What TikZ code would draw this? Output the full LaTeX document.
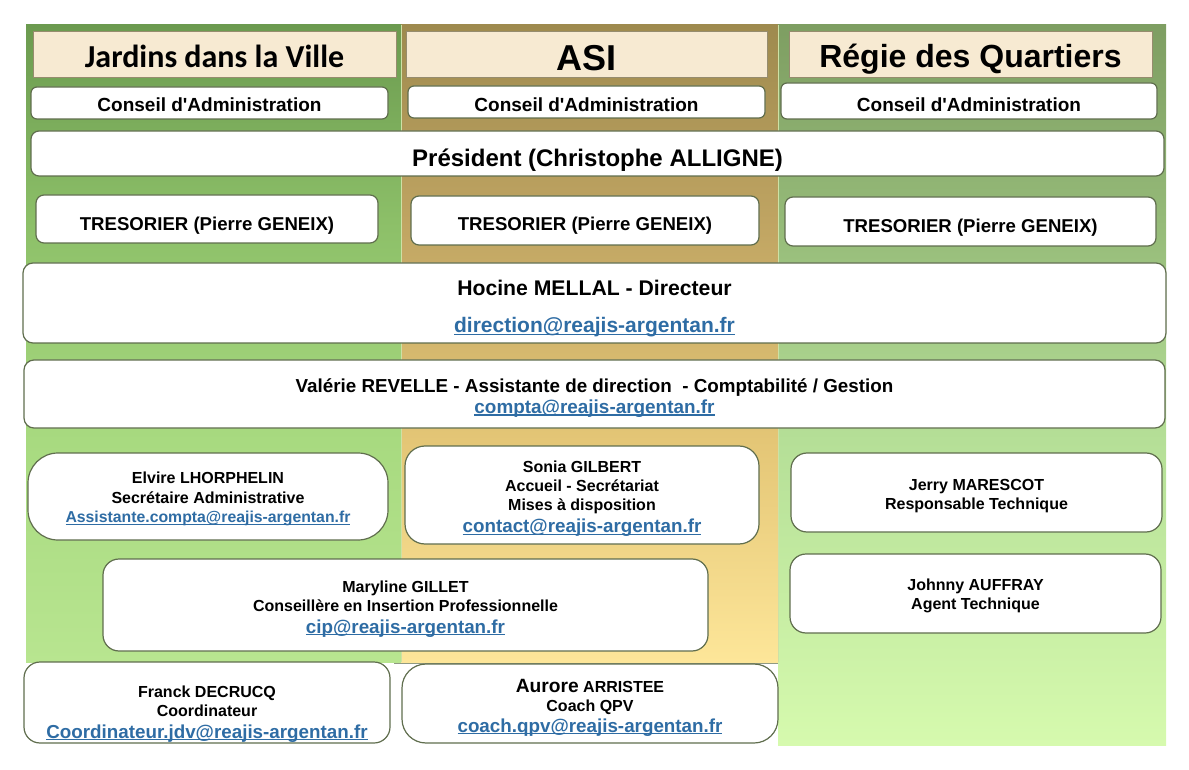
\documentclass[tikz,border=0pt]{standalone}
\usepackage{fontspec}
\setmainfont{Liberation Sans}
\newfontfamily\calibri{Carlito}
\usetikzlibrary{positioning}

\definecolor{jdvA}{RGB}{107,154,79}
\definecolor{jdvB}{RGB}{140,191,104}
\definecolor{jdvC}{RGB}{168,218,128}
\definecolor{jdvD}{RGB}{184,229,144}
\definecolor{asiA}{RGB}{158,138,78}
\definecolor{asiB}{RGB}{191,164,98}
\definecolor{asiC}{RGB}{228,198,118}
\definecolor{asiD}{RGB}{253,230,153}
\definecolor{rdqA}{RGB}{126,158,98}
\definecolor{rdqB}{RGB}{149,186,120}
\definecolor{rdqC}{RGB}{181,223,151}
\definecolor{rdqD}{RGB}{214,250,174}
\definecolor{headfill}{RGB}{247,234,210}
\definecolor{headline}{RGB}{150,140,110}
\definecolor{cardline}{RGB}{96,110,78}
\definecolor{mailblue}{RGB}{46,108,164}
\definecolor{divline}{RGB}{205,225,165}

% column backgrounds, bottom to top
\pgfdeclareverticalshading{jdvshade}{100bp}{color(0bp)=(jdvD); color(25bp)=(jdvD); color(42.4bp)=(jdvC); color(59.7bp)=(jdvB); color(75bp)=(jdvA); color(100bp)=(jdvA)}
\pgfdeclareverticalshading{asishade}{100bp}{color(0bp)=(asiD); color(25bp)=(asiD); color(42.4bp)=(asiC); color(59.7bp)=(asiB); color(75bp)=(asiA); color(100bp)=(asiA)}
\pgfdeclareverticalshading{rdqshade}{100bp}{color(0bp)=(rdqD); color(25bp)=(rdqD); color(46.2bp)=(rdqC); color(61.5bp)=(rdqB); color(75bp)=(rdqA); color(100bp)=(rdqA)}

\newcommand\mail[2][9.4]{{\fontsize{#1}{#1}\selectfont\color{mailblue}%
  \setbox0\hbox{#2}\rlap{\rule[-0.13em]{\wd0}{0.07em}}\box0}}
\newcommand\sd[1]{\rule{0pt}{\dimexpr0.75em+#1pt\relax}}

\begin{document}
\begin{tikzpicture}[x=0.5pt,y=-0.5pt,
  head/.style={draw=headline, line width=0.5pt, fill=headfill, inner sep=0pt},
  card/.style={draw=cardline, line width=0.6pt, fill=white, rounded corners=4pt,
    align=center, inner sep=0pt, font=\bfseries\fontsize{8}{9.5}\selectfont}]
\useasboundingbox (0,0) rectangle (1189,770);

% columns
\shade[shading=jdvshade] (26,25) rectangle (401,662);
\shade[shading=asishade] (401,25) rectangle (778,662);
\shade[shading=rdqshade] (778,25) rectangle (1166,745);
\draw[divline, line width=0.5pt] (401,25) -- (401,662);
\draw[divline, line width=0.5pt] (778,25) -- (778,662);
\draw[cardline!70, line width=0.5pt] (394,663) -- (778,663);

% titles
\node[head, minimum width=181.5pt, minimum height=23pt, font=\calibri\bfseries\fontsize{16}{19}\selectfont] (hJdv) at (214.5,55) {\sd{1}Jardins dans la Ville};
\node[head, minimum width=180.5pt, minimum height=23pt, font=\bfseries\fontsize{18}{21}\selectfont] (hAsi) at (586.5,55) {\sd{2}ASI};
\node[head, minimum width=181.5pt, minimum height=23pt, font=\bfseries\fontsize{16}{19}\selectfont] (hRdq) at (970.5,55) {\sd{4}Régie des Quartiers};

% conseils
\node[card, rounded corners=3pt, minimum width=178.5pt, minimum height=16pt, font=\bfseries\fontsize{9.5}{11}\selectfont] (caJdv) at (209.5,103) {\sd{1}Conseil d\textquotesingle Administration};
\node[card, rounded corners=3pt, minimum width=178.5pt, minimum height=16pt, font=\bfseries\fontsize{9.5}{11}\selectfont] (caAsi) at (586.5,102) {\sd{2}Conseil d\textquotesingle Administration};
\node[card, rounded corners=3pt, minimum width=188pt, minimum height=18pt, font=\bfseries\fontsize{9.5}{11}\selectfont] (caRdq) at (969,101) {\sd{3}Conseil d\textquotesingle Administration};

% president
\node[card, minimum width=566.5pt, minimum height=22.5pt, font=\bfseries\fontsize{12}{14}\selectfont] (pres) at (597.5,153.5) {\sd{6}Président (Christophe ALLIGNE)};

% tresoriers
\node[card, minimum width=171pt, minimum height=24pt, font=\bfseries\fontsize{9.3}{11}\selectfont] (tJdv) at (207,219) {\sd{6}TRESORIER (Pierre GENEIX)};
\node[card, minimum width=174pt, minimum height=24.5pt, font=\bfseries\fontsize{9.3}{11}\selectfont] (tAsi) at (585,220.5) {\sd{5}TRESORIER (Pierre GENEIX)};
\node[card, minimum width=185.5pt, minimum height=24.5pt, font=\bfseries\fontsize{9.3}{11}\selectfont] (tRdq) at (970.5,221.5) {\sd{6}TRESORIER (Pierre GENEIX)};

% direction
\node[card, rounded corners=5pt, minimum width=571.5pt, minimum height=40pt, font=\bfseries\fontsize{10.6}{12.7}\selectfont] (dir) at (594.5,303) {\sd{5.5}Hocine MELLAL - Directeur\\[5.8pt]\mail[10.5]{direction@reajis-argentan.fr}};
\node[card, rounded corners=5pt, minimum width=570.5pt, minimum height=34pt, font=\bfseries\fontsize{9.4}{10.5}\selectfont] (assist) at (594.5,394) {\sd{3.5}Valérie REVELLE - Assistante de direction \ - Comptabilité / Gestion\\\mail[9.45]{compta@reajis-argentan.fr}};

% equipe
\node[card, rounded corners=15pt, minimum width=180pt, minimum height=43.5pt, font=\bfseries\fontsize{8}{9.75}\selectfont] (elvire) at (208,496.5) {\sd{2.5}Elvire LHORPHELIN\\Secrétaire Administrative\\\mail[7.9]{Assistante.compta@reajis-argentan.fr}};
\node[card, rounded corners=10pt, minimum width=177pt, minimum height=49pt] (sonia) at (582,495) {\sd{3.5}Sonia GILBERT\\Accueil - Secrétariat\\Mises à disposition\\[1.5pt]\mail{contact@reajis-argentan.fr}};
\node[card, rounded corners=8pt, minimum width=185.5pt, minimum height=39.5pt] (jerry) at (976.5,492.5) {\sd{3}Jerry MARESCOT\\Responsable Technique};
\node[card, rounded corners=8pt, minimum width=302.5pt, minimum height=46pt] (maryline) at (405.5,605) {\sd{3.5}Maryline GILLET\\Conseillère en Insertion Professionnelle\\[1.5pt]\mail{cip@reajis-argentan.fr}};
\node[card, rounded corners=8pt, minimum width=185.5pt, minimum height=39.5pt] (johnny) at (975.5,593.5) {\sd{2}Johnny AUFFRAY\\Agent Technique};
\node[card, rounded corners=8pt, minimum width=183pt, minimum height=40.5pt] (franck) at (207,702.5) {\sd{11}Franck DECRUCQ\\Coordinateur\\[1.5pt]\mail{Coordinateur.jdv@reajis-argentan.fr}};
\node[card, rounded corners=12pt, minimum width=188pt, minimum height=39.5pt] (aurore) at (590,703.5) {\sd{4.5}{\fontsize{9.6}{10}\selectfont Aurore} ARRISTEE\\Coach QPV\\[1pt]\mail{coach.qpv@reajis-argentan.fr}};
\end{tikzpicture}
\end{document}
